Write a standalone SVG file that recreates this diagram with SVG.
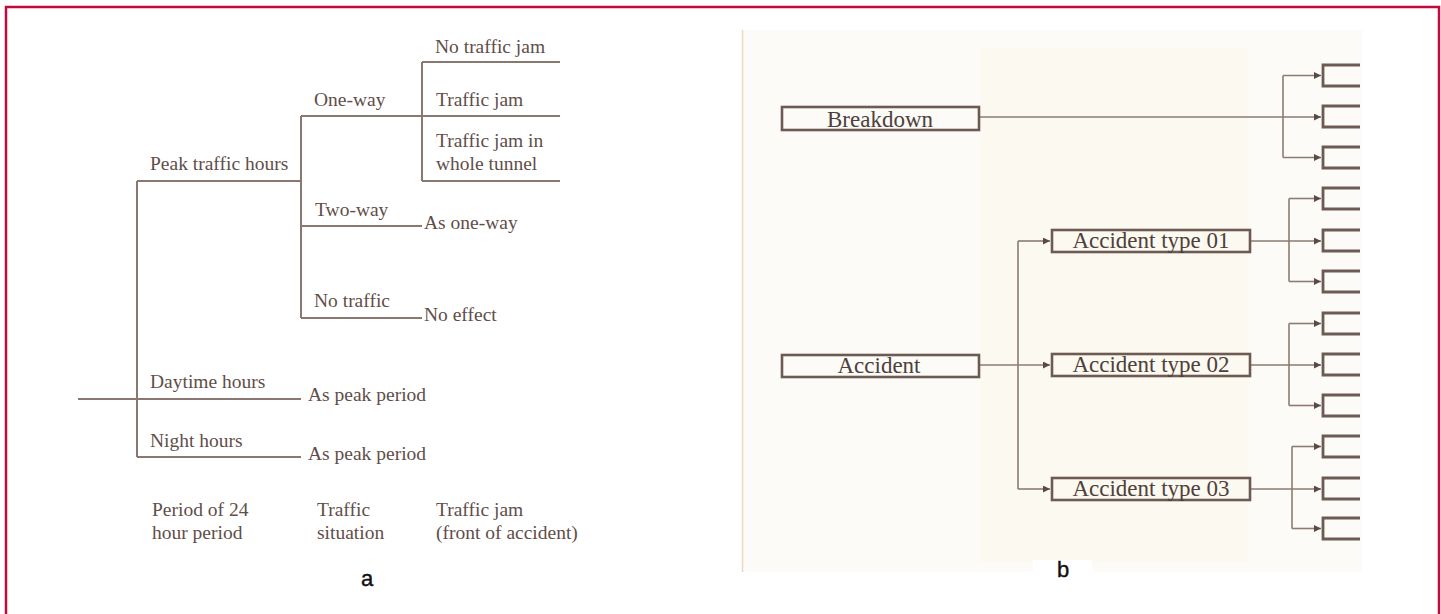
<svg xmlns="http://www.w3.org/2000/svg" width="1441" height="614" viewBox="0 0 1441 614">
<style>
.ta{font-family:"Liberation Serif","Times New Roman",serif;font-size:19.5px;fill:#5f4e49}
.tb{font-family:"Liberation Serif","Times New Roman",serif;font-size:23px;fill:#4e403b;text-anchor:middle}
.la{fill:none;stroke:#8a7770;stroke-width:2}
.lb{fill:none;stroke:#8d7b72;stroke-width:1.6}
.box{fill:none;stroke:#6c5a53;stroke-width:2.6}
.br{fill:none;stroke:#6c5a53;stroke-width:2.8}
.lab{font-family:"Liberation Sans",Arial,sans-serif;font-size:22px;fill:#111;text-anchor:middle;stroke:#111;stroke-width:0.4}
</style>
<defs>
<marker id="ah" markerUnits="userSpaceOnUse" markerWidth="8" markerHeight="8" refX="7" refY="3.5" orient="auto">
<path d="M0,0 L7,3.5 L0,7 z" fill="#5a4a44"/>
</marker>
</defs>
<rect width="1441" height="614" fill="#ffffff"/>
<path d="M6,620 V7 H1439 V620" fill="none" stroke="#c20a3e" stroke-width="2.5"/>

<g id="panel-b-bg">
<rect x="742" y="30" width="620" height="542" fill="#fcfbf8"/>
<rect x="980" y="48" width="268" height="514" fill="#fcf9f0"/>
<line x1="742.5" y1="30" x2="742.5" y2="572" stroke="#ecd8bd" stroke-width="1.5"/>
<rect x="1033" y="560" width="59" height="16" fill="#ffffff"/>
</g>

<g id="connectors-a">
<path class="la" d="M78,399 H301"/>
<path class="la" d="M137,181 V457"/>
<path class="la" d="M137,181 H301"/>
<path class="la" d="M137,457 H301"/>
<path class="la" d="M301,116 V318"/>
<path class="la" d="M301,116 H560"/>
<path class="la" d="M422,62 V181"/>
<path class="la" d="M422,62 H560"/>
<path class="la" d="M422,181 H560"/>
<path class="la" d="M301,226 H422"/>
<path class="la" d="M301,318 H422"/>
</g>

<g id="node-peak"><text class="ta" x="150" y="170">Peak traffic hours</text></g>
<g id="node-oneway"><text class="ta" x="314" y="106">One-way</text></g>
<g id="node-nojam"><text class="ta" x="435" y="53">No traffic jam</text></g>
<g id="node-jam"><text class="ta" x="436" y="106">Traffic jam</text></g>
<g id="node-jamwhole"><text class="ta" x="436" y="147">Traffic jam in</text><text class="ta" x="436" y="170">whole tunnel</text></g>
<g id="node-twoway"><text class="ta" x="315" y="216">Two-way</text></g>
<g id="node-asoneway"><text class="ta" x="424" y="229">As one-way</text></g>
<g id="node-notraffic"><text class="ta" x="314" y="307">No traffic</text></g>
<g id="node-noeffect"><text class="ta" x="424" y="321">No effect</text></g>
<g id="node-daytime"><text class="ta" x="150" y="388">Daytime hours</text></g>
<g id="node-aspeak1"><text class="ta" x="308" y="401">As peak period</text></g>
<g id="node-night"><text class="ta" x="150" y="447">Night hours</text></g>
<g id="node-aspeak2"><text class="ta" x="308" y="460">As peak period</text></g>
<g id="legend-a">
<text class="ta" x="152" y="516">Period of 24</text><text class="ta" x="152" y="539">hour period</text>
<text class="ta" x="317" y="516">Traffic</text><text class="ta" x="317" y="539">situation</text>
<text class="ta" x="436" y="516">Traffic jam</text><text class="ta" x="436" y="539">(front of accident)</text>
</g>
<g id="label-a"><text class="lab" x="367" y="586">a</text></g>

<g id="connectors-b">
<path class="lb" d="M979,117 H1321" marker-end="url(#ah)"/>
<path class="lb" d="M1283,75.5 V157.5"/>
<path class="lb" d="M1283,75.5 H1321" marker-end="url(#ah)"/>
<path class="lb" d="M1283,157.5 H1321" marker-end="url(#ah)"/>

<path class="lb" d="M979,365 H1050" marker-end="url(#ah)"/>
<path class="lb" d="M1018,241 V489"/>
<path class="lb" d="M1018,241 H1050" marker-end="url(#ah)"/>
<path class="lb" d="M1018,489 H1050" marker-end="url(#ah)"/>

<path class="lb" d="M1250,241 H1321" marker-end="url(#ah)"/>
<path class="lb" d="M1289,198.5 V281.5"/>
<path class="lb" d="M1289,198.5 H1321" marker-end="url(#ah)"/>
<path class="lb" d="M1289,281.5 H1321" marker-end="url(#ah)"/>

<path class="lb" d="M1250,365 H1321" marker-end="url(#ah)"/>
<path class="lb" d="M1289,323.5 V405.5"/>
<path class="lb" d="M1289,323.5 H1321" marker-end="url(#ah)"/>
<path class="lb" d="M1289,405.5 H1321" marker-end="url(#ah)"/>

<path class="lb" d="M1250,489 H1321" marker-end="url(#ah)"/>
<path class="lb" d="M1292,446.5 V528.5"/>
<path class="lb" d="M1292,446.5 H1321" marker-end="url(#ah)"/>
<path class="lb" d="M1292,528.5 H1321" marker-end="url(#ah)"/>
</g>

<g id="node-breakdown"><rect class="box" x="782" y="107" width="197" height="23"/><text class="tb" x="880" y="127">Breakdown</text></g>
<g id="node-accident"><rect class="box" x="782" y="355" width="197" height="22"/><text class="tb" x="879" y="373">Accident</text></g>
<g id="node-type01"><rect class="box" x="1052" y="230" width="198" height="22"/><text class="tb" x="1151" y="248">Accident type 01</text></g>
<g id="node-type02"><rect class="box" x="1052" y="354" width="198" height="22"/><text class="tb" x="1151" y="372">Accident type 02</text></g>
<g id="node-type03"><rect class="box" x="1052" y="478" width="198" height="22"/><text class="tb" x="1151" y="496">Accident type 03</text></g>

<g id="brackets">
<path class="br" d="M1360,65 H1323 V86 H1360"/>
<path class="br" d="M1360,106 H1323 V127 H1360"/>
<path class="br" d="M1360,147 H1323 V168 H1360"/>
<path class="br" d="M1360,188 H1323 V209 H1360"/>
<path class="br" d="M1360,230 H1323 V251 H1360"/>
<path class="br" d="M1360,271 H1323 V292 H1360"/>
<path class="br" d="M1360,313 H1323 V334 H1360"/>
<path class="br" d="M1360,354 H1323 V375 H1360"/>
<path class="br" d="M1360,395 H1323 V416 H1360"/>
<path class="br" d="M1360,436 H1323 V457 H1360"/>
<path class="br" d="M1360,478 H1323 V499 H1360"/>
<path class="br" d="M1360,518 H1323 V539 H1360"/>
</g>
<g id="label-b"><text class="lab" x="1063" y="577">b</text></g>
</svg>
